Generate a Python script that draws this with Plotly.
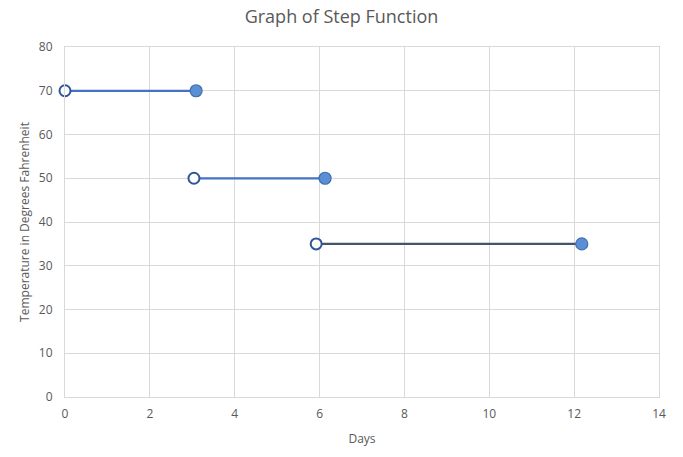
import plotly.graph_objects as go

# Step segments (Days, Temperature)
seg_start_x = [0.0, 3.04, 5.92]
seg_end_x = [3.09, 6.13, 12.18]
seg_y = [70, 50, 35]
line_colors = ["#4472C4", "#4472C4", "#44546A"]

x_ticks = [0, 2, 4, 6, 8, 10, 12, 14]
y_ticks = [0, 10, 20, 30, 40, 50, 60, 70, 80]

fig = go.Figure()
for xs, xe, y, c in zip(seg_start_x, seg_end_x, seg_y, line_colors):
    fig.add_trace(go.Scatter(x=[xs, xe], y=[y, y], mode="lines",
                             line=dict(color=c, width=2.25), showlegend=False,
                             hoverinfo="skip"))
# open circles
fig.add_trace(go.Scatter(x=seg_start_x, y=seg_y, mode="markers",
                         marker=dict(size=11, color="white", line=dict(color="#2F5597", width=2)),
                         showlegend=False, cliponaxis=False))
# filled circles
fig.add_trace(go.Scatter(x=seg_end_x, y=seg_y, mode="markers",
                         marker=dict(size=12, color="#5B8FD5", line=dict(color="#3F6FAE", width=1.2)),
                         showlegend=False, cliponaxis=False))

font_family = "Open Sans, Liberation Sans, sans-serif"
fig.update_layout(
    width=683, height=457,
    margin=dict(l=65, r=24, t=47, b=60),
    paper_bgcolor="white", plot_bgcolor="white",
    font=dict(family=font_family, color="#595959", size=12),
    title=dict(text="Graph of Step Function", x=0.5, xanchor="center", y=0.963, yanchor="middle",
               font=dict(size=18, color="#595959", family=font_family)),
    xaxis=dict(range=[0, 14], tickvals=x_ticks, showgrid=True, gridcolor="#D9D9D9", gridwidth=1,
               zeroline=False, showline=True, linecolor="#D9D9D9", mirror=True,
               ticks="", ticklabelstandoff=6, tickfont=dict(size=12, color="#595959"),
               title=dict(text="Days", font=dict(size=12, color="#595959"), standoff=13)),
    yaxis=dict(range=[0, 80], tickvals=y_ticks, showgrid=True, gridcolor="#D9D9D9", gridwidth=1,
               zeroline=False, showline=True, linecolor="#D9D9D9", mirror=True,
               ticks="", ticklabelstandoff=9, tickfont=dict(size=12, color="#595959"),
               title=dict(text="Temperature in Degrees Fahrenheit", font=dict(size=12, color="#595959"), standoff=6)),
)
fig.write_html("out.html", config={"displayModeBar": False},
               post_script="document.body.style.margin='0';")
